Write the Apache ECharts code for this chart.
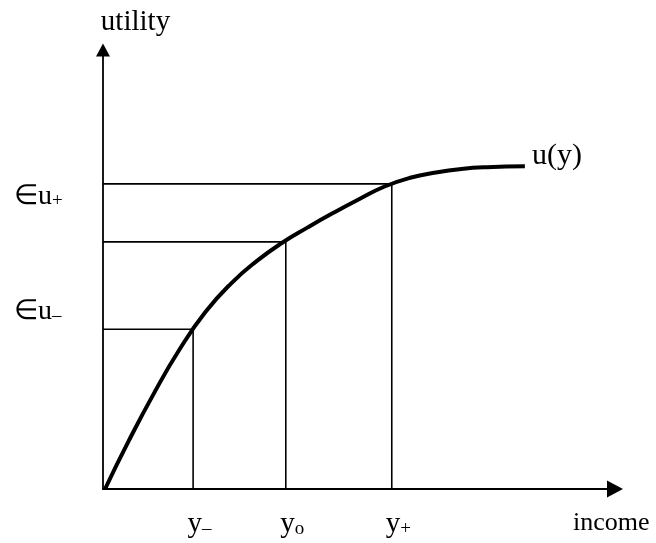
<!DOCTYPE html>
<html>
<head>
<meta charset="utf-8">
<script src="https://cdn.jsdelivr.net/npm/echarts@6/dist/echarts.min.js"></script>
<style>html,body{margin:0;padding:0;background:#fff;}#c{width:656px;height:543px;}</style>
</head>
<body>
<div id="c"></div>
<script>
// income levels (x) and their utilities (y)
const incomeTicks = [17.6, 35.7, 56.4];
const incomeLabels = ['y{s|–}', 'y{s|o}', 'y{s|+}'];
const utilLevels = [36.4, 56.3, 69.5];
const euTicks = [40.4, 66.6];
const euLabels = ['∈u{s|–}', '∈u{s|+}'];
// utility curve u(y)
const curveX = [0.4, 5, 10, 15, 20, 25, 30, 35, 40, 45, 50, 55, 60, 65, 70, 75, 82.4];
const curveY = [0, 10.9, 21.9, 31.9, 40.3, 46.8, 51.9, 56.1, 59.6, 62.9, 66.0, 68.9, 70.9, 72.1, 72.9, 73.3, 73.5];

const FONT = 'Liberation Serif';
const curveData = curveX.map((x, i) => [x, curveY[i]]);
const refSeries = incomeTicks.map((x, i) => ({
  type: 'line', silent: true, symbol: 'none', animation: false,
  lineStyle: { color: '#000', width: 1.6 },
  data: [[0, utilLevels[i]], [x, utilLevels[i]], [x, 0]]
}));

const chart = echarts.init(document.getElementById('c'));
chart.setOption({
  animation: false,
  grid: { left: 103, right: 41, top: 50, bottom: 54 },
  xAxis: {
    type: 'value', min: 0, max: 100,
    name: 'income', nameLocation: 'end', nameGap: -42,
    nameTextStyle: { fontFamily: FONT, fontSize: 26, color: '#000', verticalAlign: 'top', padding: [21, 0, 0, 0] },
    axisLine: { lineStyle: { color: '#000', width: 1.8 }, symbol: ['none', 'triangle'], symbolSize: [17, 16] },
    axisTick: { show: false },
    splitLine: { show: false },
    axisLabel: {
      customValues: incomeTicks, margin: 21, padding: [0, 0, 0, 13],
      formatter: (v) => incomeLabels[incomeTicks.indexOf(v)] || '',
      fontFamily: FONT, fontSize: 29, color: '#000',
      rich: { s: { fontFamily: FONT, fontSize: 19, color: '#000', verticalAlign: 'bottom' } }
    }
  },
  yAxis: {
    type: 'value', min: 0, max: 100,
    name: 'utility', nameLocation: 'end', nameGap: 13,
    nameTextStyle: { fontFamily: FONT, fontSize: 29, color: '#000', align: 'center', padding: [0, 0, 0, 65] },
    axisLine: { lineStyle: { color: '#000', width: 1.8 }, symbol: ['none', 'triangle'], symbolSize: [14, 13] },
    axisTick: { show: false },
    splitLine: { show: false },
    axisLabel: {
      customValues: euTicks, margin: 89, align: 'left',
      formatter: (v) => euLabels[euTicks.indexOf(v)] || '',
      fontFamily: FONT, fontSize: 28, color: '#000',
      rich: { s: { fontFamily: FONT, fontSize: 19, color: '#000', verticalAlign: 'bottom' } }
    }
  },
  series: refSeries.concat([{
    type: 'line', name: 'u(y)', smooth: 0.5, symbol: 'none', animation: false,
    lineStyle: { color: '#000', width: 4 },
    data: curveData,
    endLabel: { show: true, formatter: 'u(y)', fontFamily: FONT, fontSize: 30, color: '#000', distance: 7, offset: [0, -10] }
  }])
});
</script>
</body>
</html>
